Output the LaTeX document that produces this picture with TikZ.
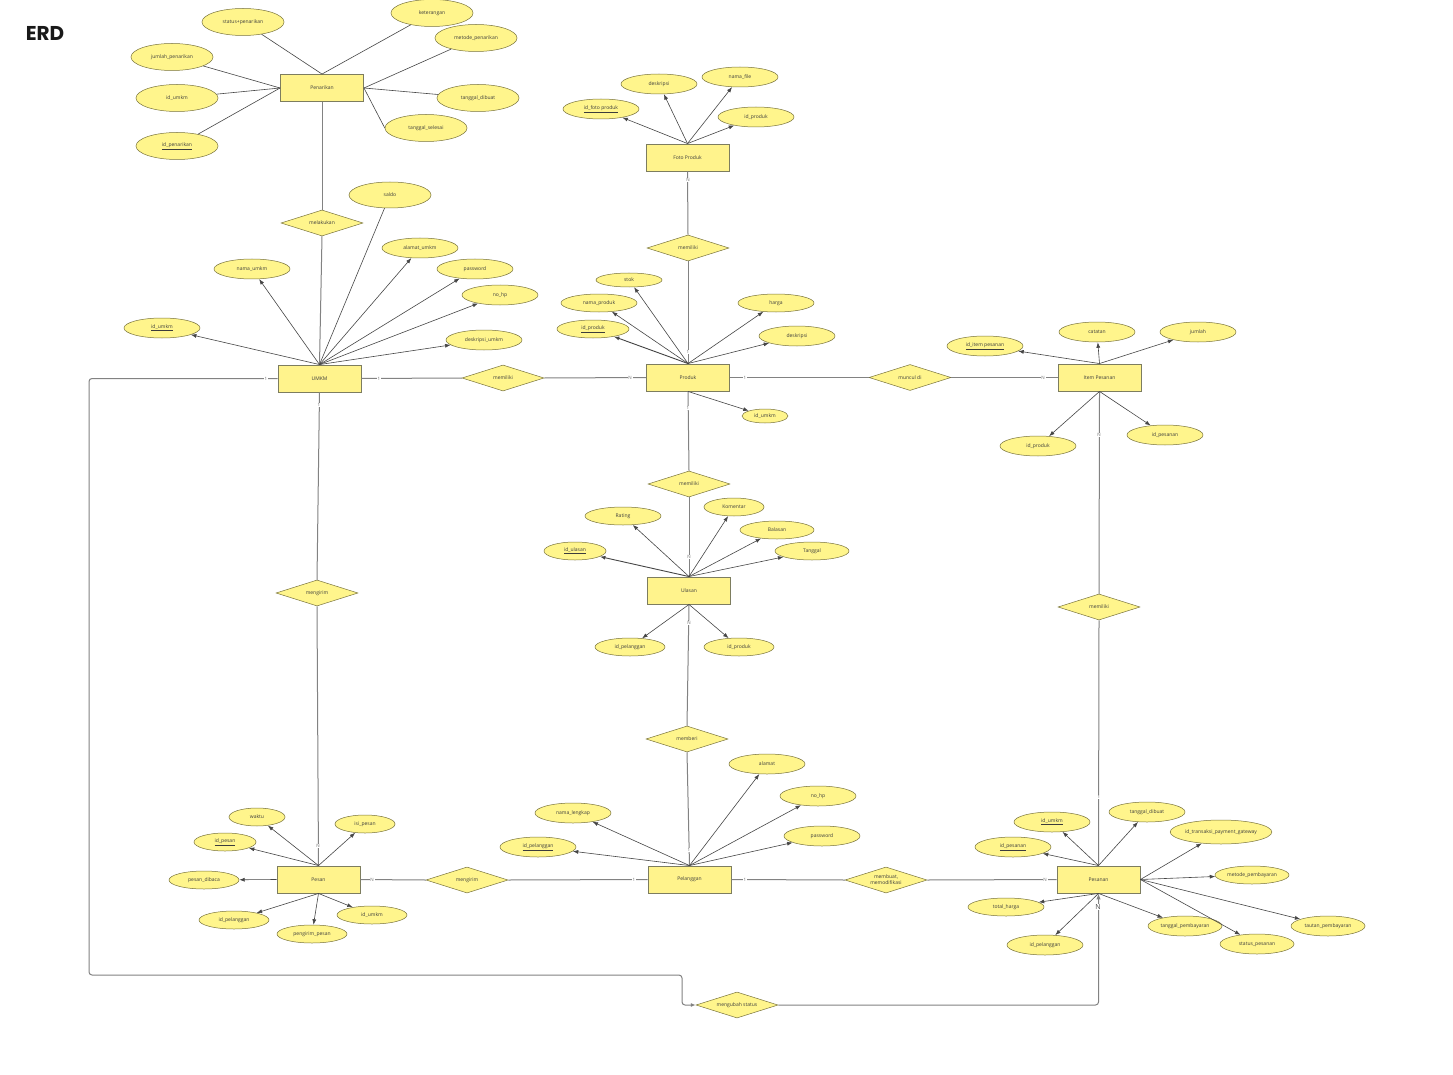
\documentclass[tikz,border=0pt]{standalone}
\usepackage{fontspec}
\setmainfont{Open Sans}
\newfontfamily\titlefont{Poppins}
\usetikzlibrary{shapes.geometric,arrows.meta}
\definecolor{attrfill}{RGB}{255,245,140}
\definecolor{attrdraw}{RGB}{120,115,60}
\definecolor{entfill}{RGB}{255,243,140}
\definecolor{entdraw}{RGB}{125,125,95}
\definecolor{linec}{RGB}{70,70,70}
\definecolor{relc}{RGB}{130,130,130}
\definecolor{cardc}{RGB}{110,110,110}
\definecolor{txt}{RGB}{60,60,60}
\begin{document}
\begin{tikzpicture}[x=1pt,y=-1pt,
  every node/.style={font=\fontsize{5}{6}\selectfont, text=txt},
  attr/.style={ellipse, draw=attrdraw, fill=attrfill, line width=0.5pt, minimum width=76pt, minimum height=20pt, inner sep=0pt},
  big/.style={minimum width=82pt, minimum height=27pt},
  ent/.style={rectangle, draw=entdraw, fill=entfill, line width=0.9pt, minimum width=83pt, minimum height=27pt, inner sep=0pt},
  rel/.style={diamond, draw=attrdraw, fill=attrfill, line width=0.5pt, minimum width=82pt, minimum height=26pt, aspect=3.15, inner sep=0pt, align=center},
  link/.style={draw=linec, line width=0.6pt},
  arr/.style={draw=linec, line width=0.6pt, -{Latex[length=5.5pt,width=4pt]}},
  conn/.style={draw=relc, line width=1pt},
  card/.style={fill=white, inner sep=0.8pt, text=cardc, font=\fontsize{4.5}{4.5}\selectfont},
]
\fill[white] (0,0) rectangle (1453,1075);
\useasboundingbox (0,0) rectangle (1453,1075);

\node[text=black!90, font=\titlefont\bfseries\fontsize{20}{20}\selectfont] (title) at (45,33) {ERD};

% ---------- entities ----------
\node[ent] (pen) at (322,88) {Penarikan};
\node[ent] (umkm) at (319.5,378.5) {UMKM};
\node[ent] (produk) at (688,377.5) {Produk};
\node[ent] (foto) at (687.5,157.5) {Foto Produk};
\node[ent] (item) at (1099.5,377.5) {Item Pesanan};
\node[ent] (ulasan) at (689,590.5) {Ulasan};
\node[ent] (pel) at (689.5,879.5) {Pelanggan};
\node[ent] (pesan) at (318.5,879.5) {Pesan};
\node[ent] (pesanan) at (1098.5,879.5) {Pesanan};

% ---------- relationships ----------
\node[rel] (mel) at (322,223) {melakukan};
\node[rel] (mem1) at (503,378) {memiliki};
\node[rel] (mem2) at (688,248) {memiliki};
\node[rel] (mun) at (910,377.5) {muncul di};
\node[rel] (mem3) at (1099,607) {memiliki};
\node[rel] (mem4) at (689,484) {memiliki};
\node[rel] (memberi) at (687,739) {memberi};
\node[rel] (kir1) at (317,593) {mengirim};
\node[rel] (kir2) at (467,880) {mengirim};
\node[rel] (mbt) at (886,880) {membuat,\\memodifikasi};
\node[rel] (mub) at (737,1005) {mengubah status};

% ---------- relationship connectors ----------
\draw[conn] (pen.south) -- (mel.north);
\draw[conn] (mel.south) -- (umkm.north);
\draw[conn] (umkm.east) -- (mem1.west);
\draw[conn] (mem1.east) -- (produk.west);
\draw[conn] (produk.north) -- (mem2.south);
\draw[conn] (mem2.north) -- (foto.south);
\draw[conn] (produk.east) -- (mun.west);
\draw[conn] (mun.east) -- (item.west);
\draw[conn] (item.south) -- (mem3.north);
\draw[conn] (mem3.south) -- (pesanan.north);
\draw[conn] (produk.south) -- (mem4.north);
\draw[conn] (mem4.south) -- (ulasan.north);
\draw[conn] (ulasan.south) -- (memberi.north);
\draw[conn] (memberi.south) -- (pel.north);
\draw[conn] (umkm.south) -- (kir1.north);
\draw[conn] (kir1.south) -- (pesan.north);
\draw[conn] (pel.west) -- (kir2.east);
\draw[conn] (kir2.west) -- (pesan.east);
\draw[conn] (pel.east) -- (mbt.west);
\draw[conn] (mbt.east) -- (pesanan.west);
\coordinate (cA) at (89,975);
\coordinate (cB) at (682,1005);
\draw[conn, rounded corners=3pt, -{Latex[length=5pt,width=4pt]}] (umkm.west) -| (cA) -| (cB) -- (mub.west);
\draw[conn, rounded corners=3pt, -{Latex[length=6pt,width=4.5pt]}] (mub.east) -| (pesanan.south);

% cardinalities
\node[card] at (266,378.5) {1};
\node[card] at (379,378.5) {1};
\node[card] at (630,378) {N};
\node[card] at (688,352) {1};
\node[card] at (688,180) {N};
\node[card] at (745,378) {1};
\node[card] at (1043,377.5) {N};
\node[card] at (1099,435) {N};
\node[card] at (1099,797) {1};
\node[card] at (688,408) {1};
\node[card] at (689,557) {N};
\node[card] at (689,623) {N};
\node[card] at (689,850) {1};
\node[card] at (319,405) {1};
\node[card] at (318,846) {N};
\node[card] at (634,880) {1};
\node[card] at (372,880) {N};
\node[card] at (745,880) {1};
\node[card] at (1045,880) {N};
\node[fill=white, inner sep=0.6pt, text=black!70, font=\fontsize{7}{7}\selectfont] at (1098,907) {N};

% ---------- Penarikan attributes ----------
\node[attr,big] (p1) at (243,22) {status+penarikan};
\node[attr,big] (p2) at (432,13) {keterangan};
\node[attr,big] (p3) at (476,38) {metode\_penarikan};
\node[attr,big] (p4) at (172,57) {jumlah\_penarikan};
\node[attr,big] (p5) at (177,98) {id\_umkm};
\node[attr,big] (p6) at (478,98) {tanggal\_dibuat};
\node[attr,big] (p7) at (426,128) {tanggal\_selesai};
\node[attr,big] (p8) at (177,146) {\underline{id\_penarikan}};
\draw[link] (pen.north) -- (p1);
\draw[link] (pen.north) -- (p2);
\draw[link] (pen.east) -- (p3);
\draw[link] (pen.west) -- (p4);
\draw[link] (pen.west) -- (p5);
\draw[link] (pen.east) -- (p6);
\draw[link] (pen.east) -- (p7.west);
\draw[link] (pen.west) -- (p8);

% ---------- UMKM attributes ----------
\node[attr, minimum width=82pt, minimum height=26pt] (u1) at (390,195) {saldo};
\node[attr] (u2) at (420,248) {alamat\_umkm};
\node[attr] (u3) at (475,269) {password};
\node[attr] (u4) at (500,295) {no\_hp};
\node[attr] (u5) at (484,340) {deskripsi\_umkm};
\node[attr] (u6) at (252,269) {nama\_umkm};
\node[attr] (u7) at (162,328) {\underline{id\_umkm}};
\draw[link] (umkm.north) -- (u1);
\draw[arr] (umkm.north) -- (u2);
\draw[arr] (umkm.north) -- (u3);
\draw[arr] (umkm.north) -- (u4);
\draw[arr] (umkm.north) -- (u5);
\draw[arr] (umkm.north) -- (u6);
\draw[arr] (umkm.north) -- (u7);

% ---------- Produk attributes ----------
\node[attr, minimum width=66pt, minimum height=14pt] (pr1) at (629,280) {stok};
\node[attr, minimum height=18pt] (pr2) at (599,303) {nama\_produk};
\node[attr, minimum width=72pt, minimum height=18pt] (pr3) at (593,329) {\underline{id\_produk}};
\node[attr, minimum height=18pt] (pr4) at (776,303) {harga};
\node[attr] (pr5) at (797,336) {deskripsi};
\node[attr, minimum width=46pt, minimum height=14pt] (pr6) at (765,416) {id\_umkm};
\draw[arr] (produk.north) -- (pr1);
\draw[arr] (produk.north) -- (pr2);
\draw[arr, line width=0.9pt] (produk.north) -- (pr3);
\draw[arr] (produk.north) -- (pr4);
\draw[arr] (produk.north) -- (pr5);
\draw[arr] (produk.south) -- (pr6);

% ---------- Foto Produk attributes ----------
\node[attr] (f1) at (601,109) {\underline{id\_foto produk}};
\node[attr] (f2) at (659,84) {deskripsi};
\node[attr] (f3) at (740,77) {nama\_file};
\node[attr] (f4) at (756,117) {id\_produk};
\draw[arr] (foto.north) -- (f1);
\draw[arr] (foto.north) -- (f2);
\draw[arr] (foto.north) -- (f3);
\draw[arr] (foto.north) -- (f4);

% ---------- Item Pesanan attributes ----------
\node[attr] (i1) at (985,346) {\underline{id\_item pesanan}};
\node[attr] (i2) at (1097,332) {catatan};
\node[attr] (i3) at (1198,332) {jumlah};
\node[attr] (i4) at (1038,446) {id\_produk};
\node[attr] (i5) at (1165,435) {id\_pesanan};
\draw[arr] (item.north) -- (i1);
\draw[arr] (item.north) -- (i2);
\draw[arr] (item.north) -- (i3);
\draw[arr] (item.south) -- (i4);
\draw[arr] (item.south) -- (i5);

% ---------- Ulasan attributes ----------
\node[attr, minimum height=18pt] (ul1) at (623,516) {Rating};
\node[attr, minimum width=62pt, minimum height=18pt] (ul2) at (575,551) {\underline{id\_ulasan}};
\node[attr, minimum width=60pt, minimum height=18pt] (ul3) at (734,507) {Komentar};
\node[attr, minimum width=74pt, minimum height=18pt] (ul4) at (777,530) {Balasan};
\node[attr, minimum width=74pt, minimum height=18pt] (ul5) at (812,551) {Tanggal};
\node[attr, minimum width=70pt, minimum height=18pt] (ul6) at (630,647) {id\_pelanggan};
\node[attr, minimum width=70pt, minimum height=18pt] (ul7) at (739,647) {id\_produk};
\draw[arr] (ulasan.north) -- (ul1);
\draw[arr, line width=0.9pt] (ulasan.north) -- (ul2);
\draw[arr] (ulasan.north) -- (ul3);
\draw[arr] (ulasan.north) -- (ul4);
\draw[arr] (ulasan.north) -- (ul5);
\draw[arr] (ulasan.south) -- (ul6);
\draw[arr] (ulasan.south) -- (ul7);

% ---------- Pelanggan attributes ----------
\node[attr] (pl1) at (573,813) {nama\_lengkap};
\node[attr] (pl2) at (538,847) {\underline{id\_pelanggan}};
\node[attr] (pl3) at (767,764) {alamat};
\node[attr] (pl4) at (818,796) {no\_hp};
\node[attr] (pl5) at (822,836) {password};
\draw[arr] (pel.north) -- (pl1);
\draw[arr] (pel.north) -- (pl2);
\draw[arr] (pel.north) -- (pl3);
\draw[arr] (pel.north) -- (pl4);
\draw[arr] (pel.north) -- (pl5);

% ---------- Pesan attributes ----------
\node[attr, minimum width=56pt, minimum height=18pt] (ps1) at (257,817) {waktu};
\node[attr, minimum width=60pt, minimum height=18pt] (ps2) at (365,824) {isi\_pesan};
\node[attr, minimum width=62pt, minimum height=18pt] (ps3) at (225,842) {\underline{id\_pesan}};
\node[attr, minimum width=70pt, minimum height=18pt] (ps4) at (204,880) {pesan\_dibaca};
\node[attr, minimum width=70pt, minimum height=18pt] (ps5) at (234,920) {id\_pelanggan};
\node[attr, minimum width=70pt, minimum height=18pt] (ps6) at (312,934) {pengirim\_pesan};
\node[attr, minimum width=70pt, minimum height=18pt] (ps7) at (372,915) {id\_umkm};
\draw[arr] (pesan.north) -- (ps1);
\draw[arr] (pesan.north) -- (ps2);
\draw[arr] (pesan.north) -- (ps3);
\draw[arr] (pesan.west) -- (ps4);
\draw[arr] (pesan.south) -- (ps5);
\draw[arr] (pesan.south) -- (ps6);
\draw[arr] (pesan.south) -- (ps7);

% ---------- Pesanan attributes ----------
\node[attr] (pn1) at (1052,822) {\underline{id\_umkm}};
\node[attr] (pn2) at (1013,847) {\underline{id\_pesanan}};
\node[attr] (pn3) at (1147,812) {tanggal\_dibuat};
\node[attr, minimum width=100pt, minimum height=24pt] (pn4) at (1221,832) {id\_transaksi\_payment\_gateway};
\node[attr, minimum width=74pt, minimum height=18pt] (pn5) at (1252,875) {metode\_pembayaran};
\node[attr, minimum width=74pt] (pn6) at (1328,926) {tautan\_pembayaran};
\node[attr, minimum width=74pt] (pn7) at (1257,944) {status\_pesanan};
\node[attr, minimum width=74pt] (pn8) at (1185,926) {tanggal\_pembayaran};
\node[attr, minimum height=18pt] (pn9) at (1006,907) {total\_harga};
\node[attr] (pn10) at (1045,945) {id\_pelanggan};
\draw[arr] (pesanan.north) -- (pn1);
\draw[arr] (pesanan.north) -- (pn2);
\draw[arr] (pesanan.north) -- (pn3);
\draw[arr] (pesanan.east) -- (pn4);
\draw[arr] (pesanan.east) -- (pn5);
\draw[arr] (pesanan.east) -- (pn6);
\draw[arr] (pesanan.east) -- (pn7);
\draw[arr] (pesanan.south) -- (pn8);
\draw[arr] (pesanan.south) -- (pn9);
\draw[arr] (pesanan.south) -- (pn10);
\end{tikzpicture}
\end{document}
